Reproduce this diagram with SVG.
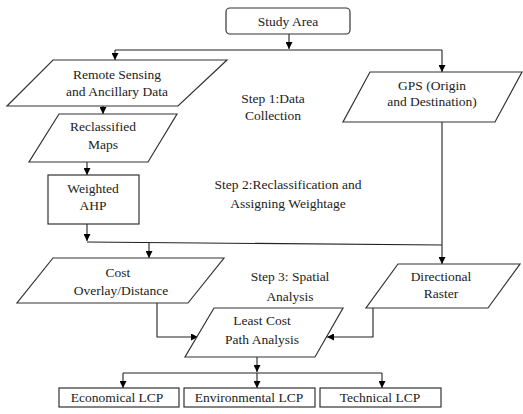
<svg xmlns="http://www.w3.org/2000/svg" width="523" height="414" viewBox="0 0 523 414" font-family="Liberation Serif" font-size="13.5">
<defs>
<marker id="ah" viewBox="0 0 10 10" refX="10" refY="5" markerWidth="7" markerHeight="7" markerUnits="userSpaceOnUse" orient="auto"><path d="M0,0 L10,5 L0,10 z" fill="#000"/></marker>
<style>
.s{fill:#fff;stroke:#333;stroke-width:1.2}
.c{fill:none;stroke:#222;stroke-width:1.1}
.t{font-family:"Liberation Serif",serif;font-size:13.5px;fill:#222;text-anchor:middle}
</style>
</defs>
<rect width="523" height="414" fill="#fff"/>
<g id="connectors">
<path class="c" d="M289,34 V49" marker-end="url(#ah)"/>
<path class="c" d="M115,50 H442"/>
<path class="c" d="M115,50 V60" marker-end="url(#ah)"/>
<path class="c" d="M442,50 V72" marker-end="url(#ah)"/>
<path class="c" d="M103,106 V114" marker-end="url(#ah)"/>
<path class="c" d="M87,162 V175" marker-end="url(#ah)"/>
<path class="c" d="M87,224 V241" marker-end="url(#ah)"/>
<path class="c" d="M87,242 L442,245"/>
<path class="c" d="M442,122 V264" marker-end="url(#ah)"/>
<path class="c" d="M149,243 V258" marker-end="url(#ah)"/>
<path class="c" d="M157,303 V337 H198" marker-end="url(#ah)"/>
<path class="c" d="M373,308 V337 H327" marker-end="url(#ah)"/>
<path class="c" d="M257,357 V372" marker-end="url(#ah)"/>
<path class="c" d="M123,373 H382"/>
<path class="c" d="M123,373 V388" marker-end="url(#ah)"/>
<path class="c" d="M257,373 V388" marker-end="url(#ah)"/>
<path class="c" d="M382,373 V388" marker-end="url(#ah)"/>
</g>
<g id="study-area">
<rect class="s" x="226" y="8" width="124" height="26" rx="4"/>
<text class="t" x="288" y="26">Study Area</text>
</g>
<g id="remote-sensing">
<polygon class="s" points="53,60 227,60 178,106 7,106"/>
<text class="t" x="117" y="79">Remote Sensing</text>
<text class="t" x="117" y="96">and Ancillary Data</text>
</g>
<g id="gps">
<polygon class="s" points="370,72 522,72 495,122 343,122"/>
<text class="t" x="432" y="90">GPS (Origin</text>
<text class="t" x="432" y="106">and Destination)</text>
</g>
<g id="step1">
<text class="t" x="273" y="103">Step 1:Data</text>
<text class="t" x="273" y="120">Collection</text>
</g>
<g id="reclassified-maps">
<polygon class="s" points="59,114 177,114 148,162 29,162"/>
<text class="t" x="103" y="131">Reclassified</text>
<text class="t" x="103" y="149">Maps</text>
</g>
<g id="weighted-ahp">
<rect class="s" x="48" y="175" width="91" height="49"/>
<text class="t" x="93" y="193">Weighted</text>
<text class="t" x="93" y="210">AHP</text>
</g>
<g id="step2">
<text class="t" x="288" y="189">Step 2:Reclassification and</text>
<text class="t" x="288" y="208">Assigning Weightage</text>
</g>
<g id="cost">
<polygon class="s" points="53,258 224,258 188,303 17,303"/>
<text class="t" x="118" y="277">Cost</text>
<text class="t" x="121" y="295">Overlay/Distance</text>
</g>
<g id="directional-raster">
<polygon class="s" points="398,264 520,264 488,308 366,308"/>
<text class="t" x="441" y="281">Directional</text>
<text class="t" x="441" y="298">Raster</text>
</g>
<g id="step3">
<text class="t" x="290" y="281">Step 3: Spatial</text>
<text class="t" x="290" y="301">Analysis</text>
</g>
<g id="lcp">
<polygon class="s" points="214,308 343,308 315,357 185,357"/>
<text class="t" x="262" y="325">Least Cost</text>
<text class="t" x="262" y="344">Path Analysis</text>
</g>
<g id="economical">
<rect class="s" x="59" y="388" width="120" height="19"/>
<text class="t" x="117" y="402">Economical LCP</text>
</g>
<g id="environmental">
<rect class="s" x="184" y="388" width="131" height="19"/>
<text class="t" x="249" y="402">Environmental LCP</text>
</g>
<g id="technical">
<rect class="s" x="320" y="388" width="121" height="19"/>
<text class="t" x="380" y="402">Technical LCP</text>
</g>
</svg>
